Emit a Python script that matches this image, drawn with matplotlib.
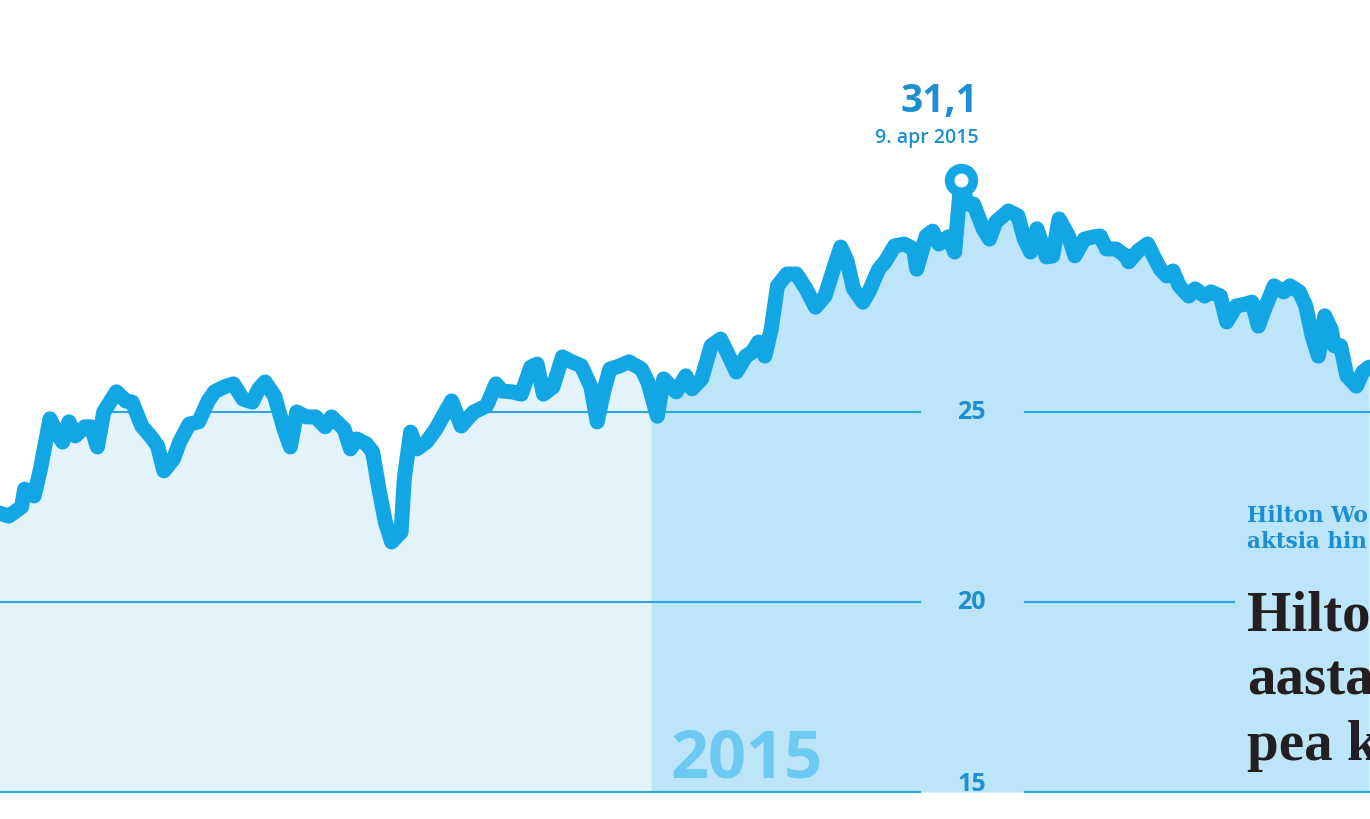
import numpy as np
import matplotlib
matplotlib.use("Agg")
import matplotlib.pyplot as plt
import matplotlib.transforms as mtransforms

# ---- data: Hilton Worldwide share price (USD); day offset from 2015-01-01 ----
day = [-206, -203, -199, -198, -195, -193, -190, -188, -186, -184, -182, -179, -177, -175,
       -173, -169, -166, -164, -161, -158, -156, -154, -151, -149, -146, -143, -140, -138,
       -135, -132, -129, -126, -124, -122, -119, -116, -114, -112, -109, -106, -103, -101,
       -97, -95, -93, -90, -88, -86, -84, -82, -79, -78, -76, -74, -71, -68, -65, -63, -60,
       -58, -56, -52, -49, -47, -44, -41, -38, -36, -34, -31, -28, -25, -22, -19, -17, -15,
       -13, -10, -7, -3, -1, 2, 4, 8, 11, 13, 16, 19, 22, 24, 27, 30, 32, 34, 36, 38, 40, 43,
       46, 49, 52, 55, 58, 60, 62, 64, 67, 69, 72, 74, 77, 80, 83, 84, 87, 89, 91, 94, 96,
       98, 100, 102, 105, 107, 109, 113, 116, 118, 120, 122, 125, 127, 129, 132, 134, 137,
       140, 142, 144, 147, 150, 151, 154, 157, 159, 161, 163, 165, 167, 170, 172, 175, 177,
       180, 182, 185, 188, 190, 192, 194, 197, 200, 202, 205, 207, 209, 211, 213, 215, 216,
       218, 220, 223, 225, 227]
price = [22.34, 22.26, 22.50, 22.97, 22.79, 23.50, 24.82, 24.47, 24.21, 24.74, 24.37, 24.61,
         24.61, 24.08, 25.00, 25.53, 25.29, 25.26, 24.63, 24.34, 24.11, 23.45, 23.76, 24.21,
         24.68, 24.74, 25.29, 25.53, 25.66, 25.74, 25.34, 25.26, 25.61, 25.79, 25.42, 24.55,
         24.08, 25.00, 24.87, 24.87, 24.61, 24.87, 24.55, 24.03, 24.29, 24.16, 23.95, 22.97,
         22.11, 21.58, 21.84, 23.24, 24.47, 24.03, 24.21, 24.55, 25.00, 25.29, 24.63, 24.82,
         25.00, 25.16, 25.74, 25.55, 25.53, 25.47, 26.18, 26.26, 25.47, 25.66, 26.45, 26.32,
         26.21, 25.66, 24.74, 25.53, 26.13, 26.21, 26.32, 26.13, 25.79, 24.89, 25.87, 25.53,
         25.95, 25.61, 25.87, 26.74, 26.92, 26.58, 26.05, 26.47, 26.58, 26.84, 26.47, 27.18,
         28.32, 28.63, 28.63, 28.24, 27.76, 28.05, 28.84, 29.34, 28.97, 28.24, 27.89, 28.18,
         28.76, 28.95, 29.37, 29.42, 29.29, 28.76, 29.63, 29.76, 29.42, 29.61, 29.21, 31.10,
         30.47, 30.47, 29.82, 29.55, 30.00, 30.29, 30.16, 29.55, 29.21, 29.82, 29.08, 29.11,
         30.08, 29.63, 29.11, 29.55, 29.61, 29.63, 29.29, 29.29, 29.11, 28.95, 29.24, 29.42,
         29.08, 28.76, 28.58, 28.71, 28.32, 28.05, 28.24, 28.05, 28.16, 28.05, 27.37, 27.79,
         27.84, 27.89, 27.26, 27.71, 28.32, 28.16, 28.32, 28.16, 27.79, 27.00, 26.47, 27.53,
         27.18, 26.74, 26.74, 25.95, 25.68, 26.05, 26.18]
grid_values = [25, 20, 15]
grid_labels = ["25", "20", "15"]
peak_day = 98
peak_value = 31.1
peak_label = "31,1"
peak_date = "9. apr 2015"
year_label = "2015"
subtitle = ["Hilton Wo", "aktsia hin"]
title = ["Hilton", "aasta", "pea k"]

# ---- style ----
LINE = "#12a6e4"
GRID = "#2aa8df"
FILL_OLD = "#e2f3fc"
FILL_NEW = "#bce5f9"
LABEL = "#1b8fd1"
YEARC = "#6cc9f1"
DARK = "#231f20"

x = np.array(day, dtype=float)
y = np.array(price, dtype=float)

fig = plt.figure(figsize=(13.7, 8.2), dpi=100)
ax = fig.add_axes([0, 0, 1, 1])
ax.axis("off")
ymin, ymax = 14.289, 35.868
ax.set_xlim(-205.8, 227.3)
ax.set_ylim(ymin, ymax)

# split fill at the start of 2015
v0 = np.interp(0, x, y)
lx = np.concatenate([x[x < 0], [0]]); ly = np.concatenate([y[x < 0], [v0]])
rx = np.concatenate([[0], x[x > 0]]); ry = np.concatenate([[v0], y[x > 0]])
ax.fill_between(lx, ly, 15, color=FILL_OLD, lw=0, zorder=1)
ax.fill_between(rx, ry, 15, color=FILL_NEW, lw=0, zorder=1)

# grid lines with gap for labels
bt = mtransforms.blended_transform_factory(ax.transAxes, ax.transData)
for gv, gl in zip(grid_values, grid_labels):
    ax.plot([0, 0.6715], [gv, gv], color=GRID, lw=1.5, transform=bt, zorder=2)
    x_end = 0.901 if gv == 20 else 1.0
    ax.plot([0.748, x_end], [gv, gv], color=GRID, lw=1.5, transform=bt, zorder=2)
    if gv == 15:
        ax.text(0.709, gv + 0.06, gl, transform=bt, ha="center", va="baseline",
                fontsize=18, fontweight="bold", color=LABEL, family="Open Sans", zorder=5)
    else:
        ax.text(0.709, gv, gl, transform=bt, ha="center", va="center",
                fontsize=18, fontweight="bold", color=LABEL, family="Open Sans", zorder=5)

# white mask above the line hides grid
ax.fill_between(x, y, ymax + 1, color="white", lw=0, zorder=3)

ax.plot(x, y, color=LINE, lw=10.8, solid_joinstyle="round", solid_capstyle="round", zorder=4)

# peak marker and annotation
ax.plot([peak_day], [peak_value], marker="o", ms=17, mew=7, mfc="white", mec=LINE, zorder=6)
ax.annotate(peak_label, xy=(peak_day, peak_value), xytext=(12.5, 49.5), textcoords="offset points",
            ha="right", va="baseline", fontsize=28, fontweight="bold", color=LABEL,
            family="Open Sans", zorder=6)
ax.annotate(peak_date, xy=(peak_day, peak_value), xytext=(12.5, 27.5), textcoords="offset points",
            ha="right", va="baseline", fontsize=14, fontweight="semibold", color=LABEL,
            family="Open Sans", zorder=6)

# year label
ax.text(6.3, 15.42, year_label, ha="left", va="baseline", fontsize=48, fontweight="bold",
        color=YEARC, family="Open Sans", zorder=5)

# right-hand headline (cut off by the right edge, as in the original crop)
for i, s in enumerate(subtitle):
    fig.text(0.910, 0.3634 - i * 0.0317, s, ha="left", va="baseline", fontsize=15.5,
             fontweight="bold", color=LABEL, family="DejaVu Serif")
for i, s in enumerate(title):
    fig.text(0.910, 0.2317 - i * 0.079, s, ha="left", va="baseline", fontsize=41,
             fontweight="bold", color=DARK, family="Liberation Serif")

fig.savefig("out.png", dpi=100)
